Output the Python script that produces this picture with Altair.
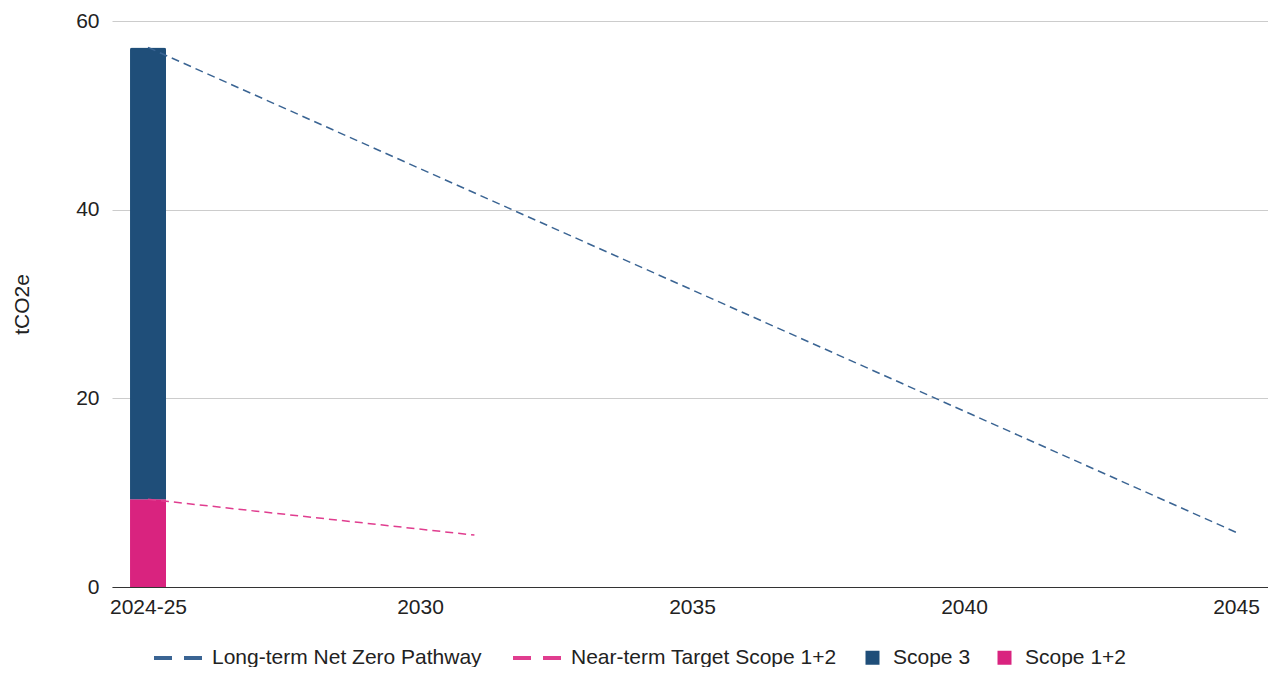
import altair as alt
import pandas as pd

# ---- data ----
bar_year = 2025
bar_series = ["Scope 1+2", "Scope 3"]
bar_values = [9.3, 47.9]          # stacked: top of bar ~57.2
bar_order = [1, 2]

lt_name = "Long-term Net Zero Pathway"
lt_years = [2025, 2045]
lt_values = [57.2, 5.8]

nt_name = "Near-term Target Scope 1+2"
nt_years = [2025, 2031]
nt_values = [9.3, 5.5]

x_ticks = [2025, 2030, 2035, 2040, 2045]
x_labels = ["2024-25", "2030", "2035", "2040", "2045"]
y_ticks = [0, 20, 40, 60]

series_names = [lt_name, nt_name, "Scope 3", "Scope 1+2"]
series_colors = ["#3a6493", "#e03d8f", "#1f4e79", "#d9237f"]

# ---- tables ----
bars = pd.DataFrame({
    "year": [bar_year] * len(bar_series),
    "series": bar_series,
    "value": bar_values,
    "order": bar_order,
})
lines = pd.concat([
    pd.DataFrame({"year": lt_years, "value": lt_values, "series": lt_name}),
    pd.DataFrame({"year": nt_years, "value": nt_values, "series": nt_name}),
])

FONT = "Liberation Sans"
FS = 21

label_expr = " : ".join(
    f"datum.value == {v} ? '{l}'" for v, l in zip(x_ticks, x_labels)
) + " : ''"

x_scale = alt.Scale(domain=[2024.338, 2045.588], nice=False, zero=False, padding=0)
y_scale = alt.Scale(domain=[0, 60], nice=False)
color_scale = alt.Scale(domain=series_names, range=series_colors)

x_axis = alt.Axis(values=x_ticks, labelExpr=label_expr, grid=False, ticks=False,
                  domain=True, domainColor="#333333", domainWidth=1,
                  labelPadding=9, title=None, labelFlush=False)
y_axis = alt.Axis(values=y_ticks, grid=True, gridColor="#cccccc", domain=False,
                  ticks=False, labelPadding=13, title="tCO2e", titlePadding=43)

legend_common = dict(orient="none", direction="horizontal", title=None,
                     labelFont=FONT, labelFontSize=FS, labelColor="#222222",
                     labelLimit=500, columnPadding=23, padding=0)

bar_legend = alt.Legend(values=["Scope 3", "Scope 1+2"], legendX=750, legendY=626,
                        symbolType="square", symbolSize=196, symbolStrokeWidth=0,
                        labelOffset=10, **legend_common)
line_legend = alt.Legend(values=[lt_name, nt_name], legendX=40, legendY=611,
                         symbolType="stroke", symbolSize=2304, symbolStrokeWidth=4,
                         symbolDash=[18, 12], labelOffset=8, **legend_common)

bar_layer = alt.Chart(bars).mark_bar(size=36, cornerRadiusTopLeft=2, cornerRadiusTopRight=2).encode(
    x=alt.X("year:Q", scale=x_scale, axis=x_axis),
    y=alt.Y("sum(value):Q", scale=y_scale, axis=y_axis, stack="zero"),
    color=alt.Color("series:N", scale=color_scale, legend=bar_legend),
    order=alt.Order("order:Q"),
)

line_layer = alt.Chart(lines).mark_line(strokeDash=[8, 5], strokeWidth=1.5).encode(
    x=alt.X("year:Q", scale=x_scale),
    y=alt.Y("value:Q", scale=y_scale),
    color=alt.Color("series:N", scale=color_scale, legend=line_legend),
)

chart = alt.layer(bar_layer, line_layer).resolve_legend(
    color="independent"
).properties(
    width=1156, height=566,
    autosize=alt.AutoSizeParams(type="none"),
    padding={"left": 104, "top": 13, "right": 0, "bottom": 80},
).configure_view(stroke=None).configure_axis(
    labelFont=FONT, labelFontSize=FS, labelColor="#222222",
    titleFont=FONT, titleFontSize=FS, titleFontWeight="normal", titleColor="#222222",
)

chart.save("out.html", embed_options={"renderer": "svg", "actions": False})
